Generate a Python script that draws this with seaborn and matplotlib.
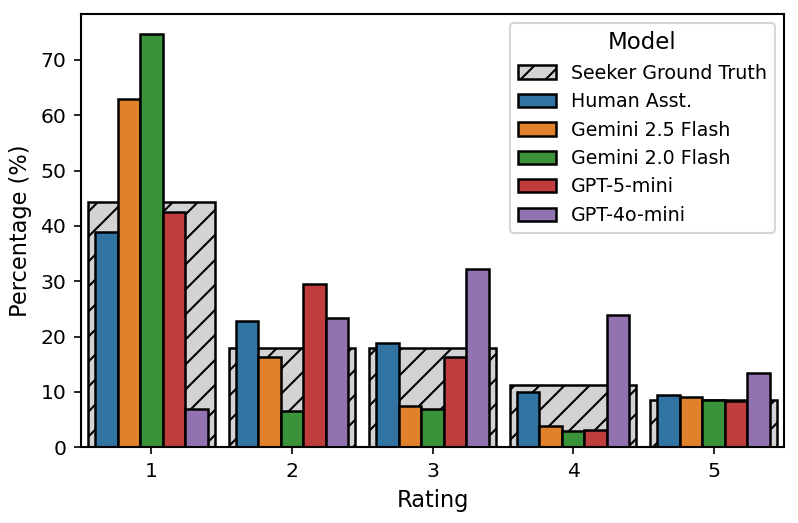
import matplotlib
matplotlib.use("Agg")
import matplotlib.pyplot as plt
from matplotlib.patches import Patch
import seaborn as sns
import pandas as pd

ratings = ["1", "2", "3", "4", "5"]
ground_truth = [44.4, 18.0, 18.0, 11.2, 8.6]
models = ["Human Asst.", "Gemini 2.5 Flash", "Gemini 2.0 Flash", "GPT-5-mini", "GPT-4o-mini"]
human_asst = [38.9, 22.8, 18.8, 10.0, 9.4]
gemini_25 = [63.0, 16.3, 7.5, 3.8, 9.1]
gemini_20 = [74.6, 6.6, 7.0, 3.0, 8.5]
gpt5_mini = [42.6, 29.5, 16.4, 3.1, 8.4]
gpt4o_mini = [6.9, 23.3, 32.2, 23.9, 13.5]

series = [human_asst, gemini_25, gemini_20, gpt5_mini, gpt4o_mini]
rows = []
for m, vals in zip(models, series):
    for r, v in zip(ratings, vals):
        rows.append({"Rating": r, "Model": m, "Percentage": v})
df = pd.DataFrame(rows)
gt_df = pd.DataFrame({"Rating": ratings, "Percentage": ground_truth})

plt.rcParams["hatch.linewidth"] = 1.0
fig, ax = plt.subplots(figsize=(5.32, 3.4867), dpi=150)
fig.subplots_adjust(left=0.1015, right=0.9825, bottom=0.1447, top=0.9732)

sns.barplot(data=gt_df, x="Rating", y="Percentage", order=ratings, color="lightgrey",
            width=0.9, edgecolor="black", linewidth=1.2, hatch="//", ax=ax, zorder=1)
palette = sns.color_palette("tab10", 5)
sns.barplot(data=df, x="Rating", y="Percentage", hue="Model", order=ratings,
            hue_order=models, palette=palette, width=0.8, edgecolor="black",
            linewidth=1.2, ax=ax, zorder=2)

handles, labels = ax.get_legend_handles_labels()
gt_handle = Patch(facecolor="lightgrey", edgecolor="black", hatch="//", linewidth=1.2)
ax.legend([gt_handle] + handles[-5:], ["Seeker Ground Truth"] + labels[-5:],
          title="Model", loc="upper right", fontsize=9.1, title_fontsize=11)

ax.set_xlim(-0.5, 4.5)
ax.set_ylim(0, 78.3)
ax.set_xlabel("Rating", fontsize=10.8)
ax.set_ylabel("Percentage (%)", fontsize=10.8)
ax.tick_params(labelsize=9.8)
for s in ax.spines.values():
    s.set_linewidth(1.0)

fig.savefig("out.png", dpi=150)
